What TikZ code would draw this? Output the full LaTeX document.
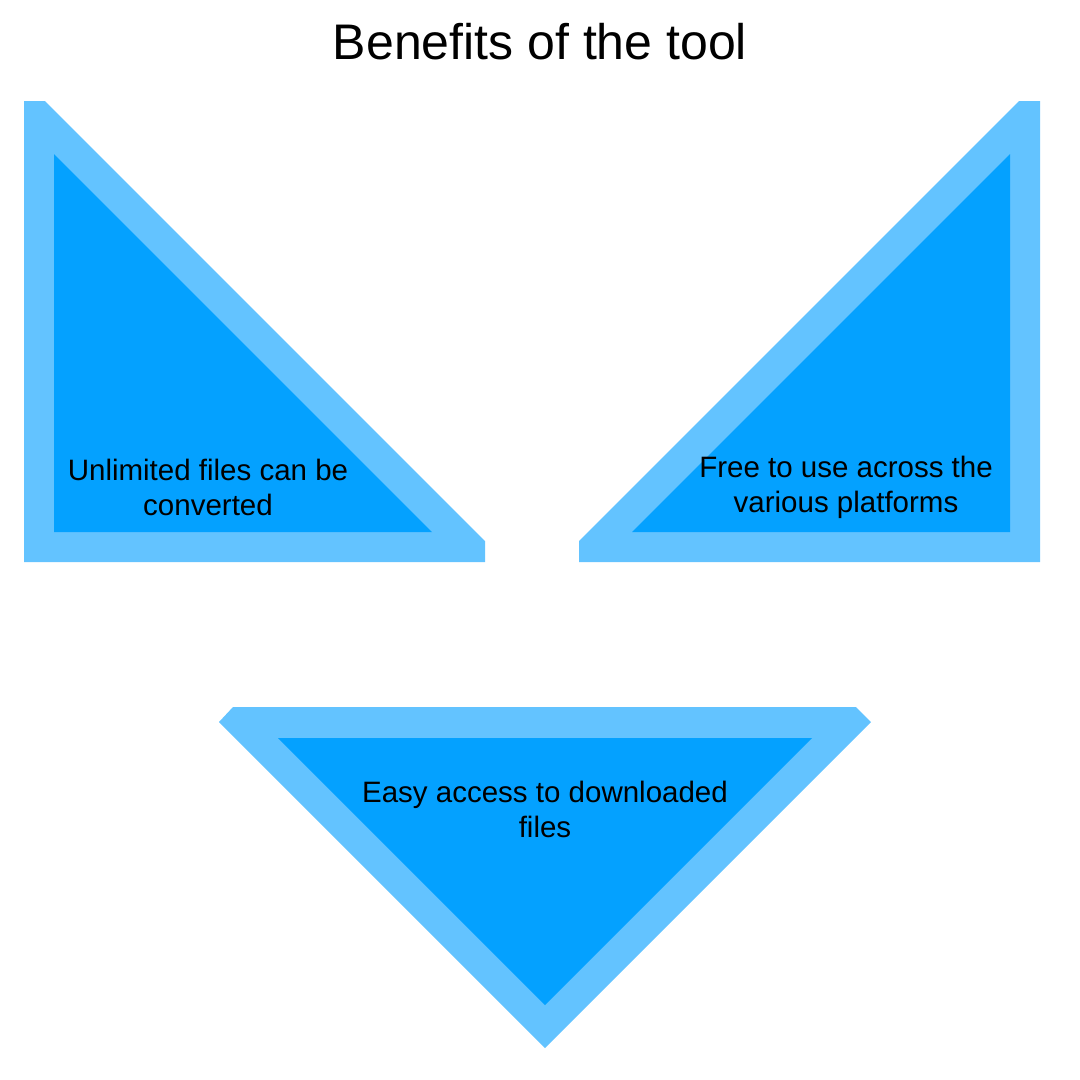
\documentclass[tikz,border=0pt]{standalone}
\usepackage{fontspec}
\setmainfont{Liberation Sans}
\usepackage{tikz}
\usetikzlibrary{calc}
\usepackage{xcolor}

\definecolor{rimblue}{HTML}{63C3FF}
\definecolor{coreblue}{HTML}{04A1FF}

\begin{document}
\begin{tikzpicture}[
            x=1pt, y=-1pt,
            every text node part/.style={
                align=center
            },
            rim/.style = {
                fill=rimblue, draw=none
            },
            core/.style = {
                fill=coreblue, draw=none
            },
            label/.style = {
                font=\fontsize{29.5}{35}\selectfont,
                text=black,
                inner sep=0pt
            }
            ]

            \useasboundingbox (0, 0) rectangle (1080, 1080);

            \node[font=\fontsize{50}{56}\selectfont] (title) at (540, 42) {Benefits of the tool};

            % left triangle
            \fill[rim] (24, 101) -- (45, 101) -- (485, 541) -- (485, 562) -- (24, 562) -- cycle;
            \fill[core] (54, 154) -- (54, 532) -- (432, 532) -- cycle;

            % right triangle
            \fill[rim] (1040, 101) -- (1019, 101) -- (579, 541) -- (579, 562) -- (1040, 562) -- cycle;
            \fill[core] (1010, 154) -- (1010, 532) -- (632, 532) -- cycle;

            % bottom triangle
            \fill[rim] (233, 707) -- (856, 707) -- (871, 722) -- (545, 1048) -- (219, 722) -- cycle;
            \fill[core] (278, 738) -- (812, 738) -- (545, 1005) -- cycle;

            \node[label] (unlimited) at (208, 487) {Unlimited files can be \\ converted};
            \node[label] (free) at (846, 487) {Free to use across the \\ various platforms};
            \node[label] (access) at (545, 809) {Easy access to downloaded \\ files};

        \end{tikzpicture}
\end{document}
